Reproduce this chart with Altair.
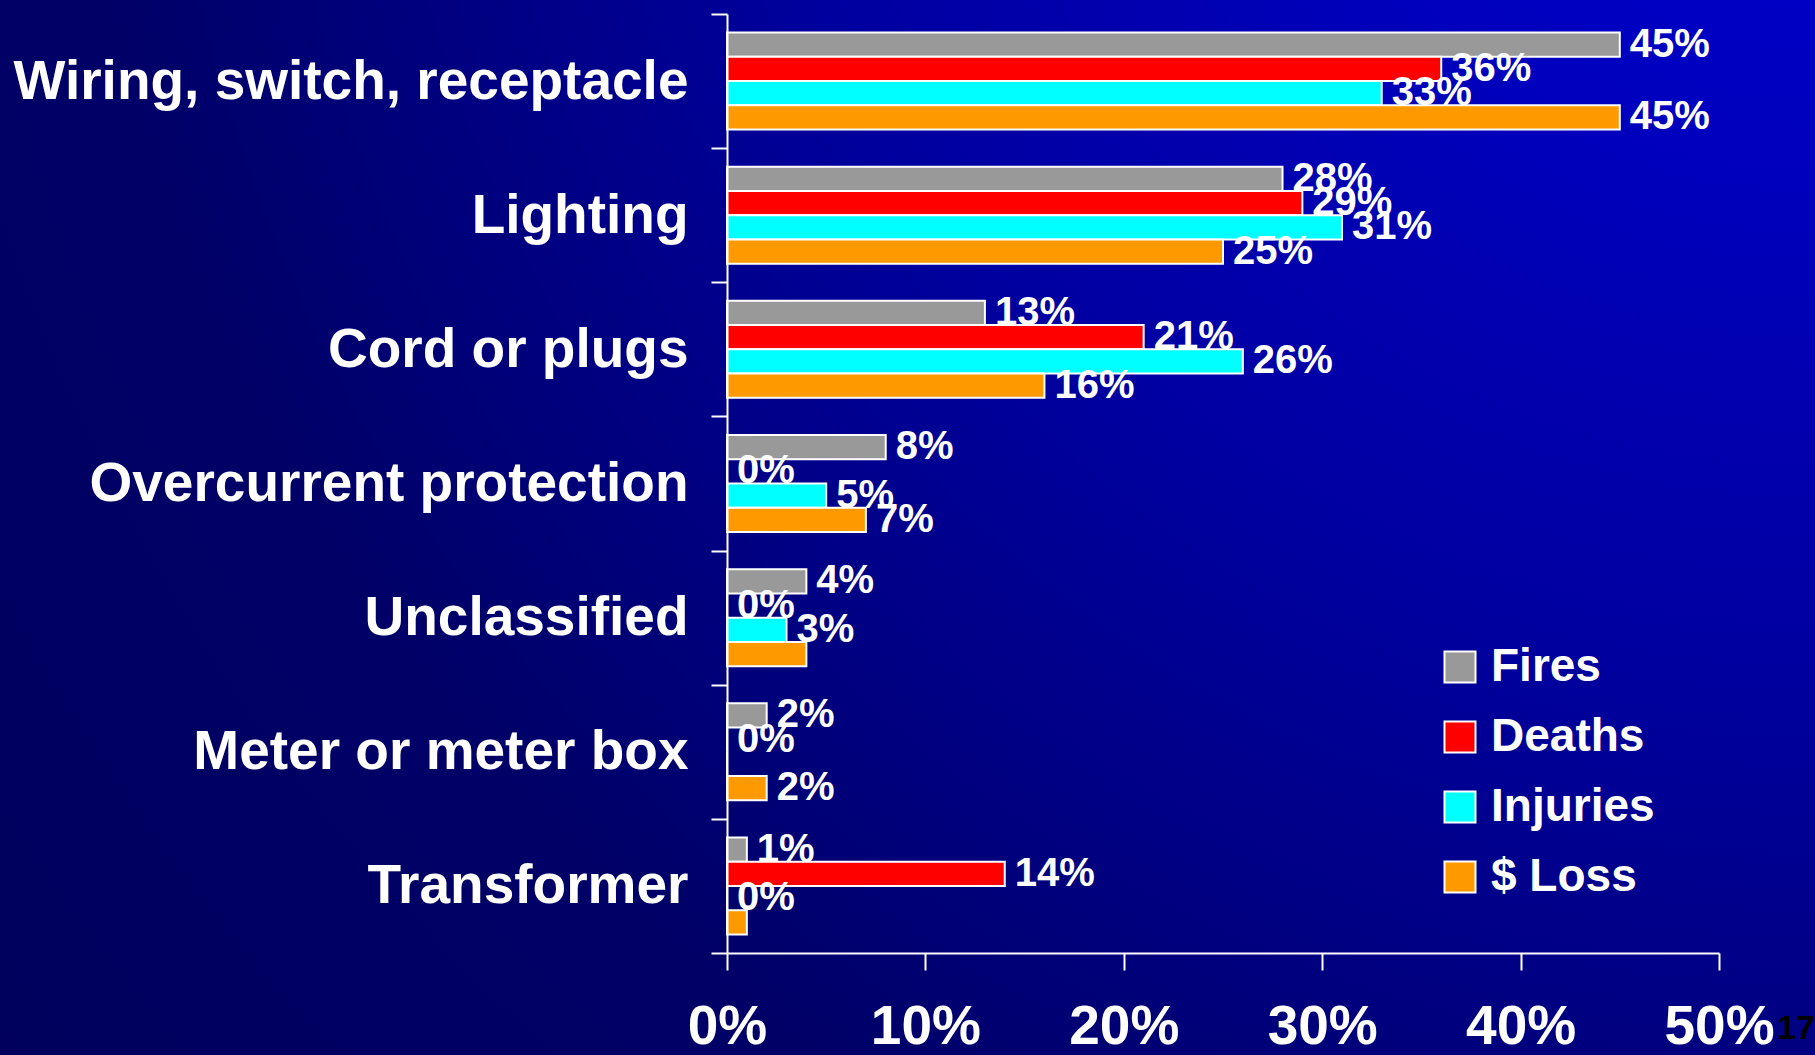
import altair as alt
import pandas as pd

FONT = "Liberation Sans"

categories = [
    "Wiring, switch, receptacle",
    "Lighting",
    "Cord or plugs",
    "Overcurrent protection",
    "Unclassified",
    "Meter or meter box",
    "Transformer",
]
series = ["Fires", "Deaths", "Injuries", "$ Loss"]
fires = [45, 28, 13, 8, 4, 2, 1]
deaths = [36, 29, 21, 0, 0, 0, 14]
injuries = [33, 31, 26, 5, 3, 0, 0]
loss = [45, 25, 16, 7, 4, 2, 1]
colors = ["#999999", "#FF0000", "#00FFFF", "#FF9900"]
hidden_labels = [
    ("Unclassified", "$ Loss"),
    ("Meter or meter box", "Injuries"),
    ("Transformer", "$ Loss"),
]
x_ticks = [0, 10, 20, 30, 40, 50]
page_number = "17"

rows = []
for s, vals in zip(series, [fires, deaths, injuries, loss]):
    for c, v in zip(categories, vals):
        rows.append({
            "category": c,
            "series": s,
            "value": v,
            "label": "" if (c, s) in hidden_labels else f"{v}%",
        })
df = pd.DataFrame(rows)

W, H = 992, 939
PAD = {"left": 727, "top": 14, "right": 96, "bottom": 102}

x_enc = alt.X(
    "value:Q",
    scale=alt.Scale(domain=[0, 50], nice=False),
    axis=alt.Axis(
        values=x_ticks,
        labelExpr="datum.value + '%'",
        grid=False,
        domainColor="white",
        domainWidth=2,
        tickColor="white",
        tickWidth=2,
        tickSize=17,
        labelColor="white",
        labelFontSize=55,
        labelFontWeight="bold",
        labelFont=FONT,
        labelPadding=30,
        labelFlush=False,
        labelOverlap=False,
        title=None,
        zindex=1,
    ),
)
y_enc = alt.Y(
    "category:N",
    sort=categories,
    scale=alt.Scale(paddingInner=0, paddingOuter=0),
    axis=alt.Axis(
        tickBand="extent",
        grid=False,
        domainColor="white",
        domainWidth=2,
        tickColor="white",
        tickWidth=2,
        tickSize=16,
        labelColor="white",
        labelFontSize=55,
        labelFontWeight="bold",
        labelFont=FONT,
        labelPadding=23,
        labelLimit=0,
        title=None,
        zindex=1,
    ),
)
yoff_enc = alt.YOffset(
    "series:N", sort=series, scale=alt.Scale(paddingInner=0, paddingOuter=0.765)
)

bg = alt.Chart(pd.DataFrame([{"k": 1}])).mark_rect(
    color=alt.RadialGradient(
        gradient="radial",
        stops=[
            alt.GradientStop(color="#0000D4", offset=0),
            alt.GradientStop(color="#0000BB", offset=0.23),
            alt.GradientStop(color="#0000A0", offset=0.41),
            alt.GradientStop(color="#000068", offset=0.68),
            alt.GradientStop(color="#000058", offset=1),
        ],
        x1=1, y1=0, r1=0, x2=1, y2=0, r2=1.4,
    )
).encode(
    x=alt.value(-PAD["left"]),
    x2=alt.value(W + PAD["right"]),
    y=alt.value(-PAD["top"]),
    y2=alt.value(H + PAD["bottom"]),
)

bars = alt.Chart(df).mark_bar(stroke="white", strokeWidth=2).encode(
    x=x_enc,
    y=y_enc,
    yOffset=yoff_enc,
    color=alt.Color(
        "series:N",
        sort=series,
        scale=alt.Scale(domain=series, range=colors),
        legend=alt.Legend(
            orient="none",
            legendX=710,
            legendY=630,
            title=None,
            symbolType="square",
            symbolSize=961,
            symbolStrokeColor="white",
            symbolStrokeWidth=2,
            symbolOpacity=1,
            labelFontSize=46,
            labelFont=FONT,
            labelFontWeight="bold",
            labelColor="white",
            labelOffset=8,
            rowPadding=24,
            padding=0,
            labelLimit=0,
        ),
    ),
)

texts = alt.Chart(df).mark_text(
    align="left", baseline="middle", dx=10, fontSize=40,
    fontWeight="bold", color="white", font=FONT,
).encode(
    x="value:Q",
    y=alt.Y("category:N", sort=categories),
    yOffset=alt.YOffset("series:N", sort=series),
    text="label:N",
)

page = alt.Chart(pd.DataFrame([{"t": page_number}])).mark_text(
    align="center", baseline="middle", fontSize=34, fontWeight="bold",
    color="black", font=FONT,
).encode(
    x=alt.value(1069),
    y=alt.value(1015),
    text="t:N",
)

chart = alt.layer(bg, bars, texts, page).properties(
    width=W,
    height=H,
    autosize=alt.AutoSizeParams(type="none"),
    padding=PAD,
    background="#000066",
).configure_view(stroke=None)

chart.save("out.html", embed_options={"renderer": "svg", "actions": False})
